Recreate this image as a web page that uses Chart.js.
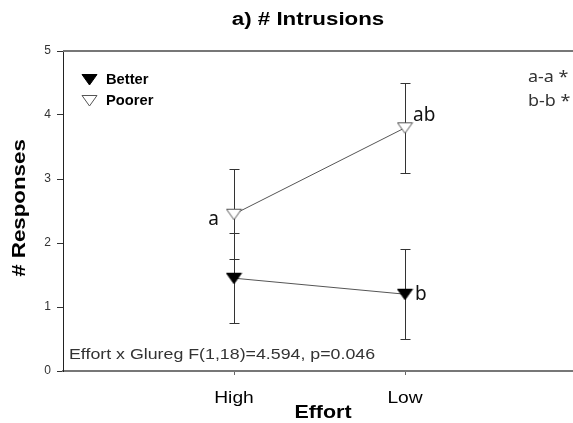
<!DOCTYPE html>
<html>
<head>
<meta charset="utf-8">
<script src="https://cdn.jsdelivr.net/npm/chart.js@4/dist/chart.umd.min.js"></script>
<style>
  html, body { margin: 0; padding: 0; background: #fff; overflow: hidden; }
  #wrap { position: relative; width: 573px; height: 423px; overflow: hidden; }
</style>
</head>
<body>
<div id="wrap"><canvas id="chart" width="576" height="423"></canvas></div>
<script>
// Effort level on the x axis
const categories = ['High', 'Low'];
// Mean number of intrusions and error-bar half widths per group
const betterMeans = [1.45, 1.2];
const betterErr = [0.7, 0.7];
const poorerMeans = [2.45, 3.8];
const poorerErr = [0.7, 0.7];
// Value axis ticks
const yTicks = [0, 1, 2, 3, 4, 5];
// Significance letters placed beside the points
const poorerLetters = ['a', 'ab'];
const betterLetters = ['', 'b'];
const contrastNotes = ['a-a *', 'b-b *'];
const statNote = 'Effort x Glureg F(1,18)=4.594, p=0.046';

const SANS = '"Liberation Sans", Arial, sans-serif';

// Downward triangle markers
function triangleMarker(fill, stroke) {
  const c = document.createElement('canvas');
  c.width = 17; c.height = 13;
  const g = c.getContext('2d');
  g.beginPath();
  g.moveTo(1, 1.5);
  g.lineTo(16, 1.5);
  g.lineTo(8.5, 12);
  g.closePath();
  g.fillStyle = fill;
  g.fill();
  g.lineWidth = 1;
  g.strokeStyle = stroke;
  g.stroke();
  return c;
}
const betterMarker = triangleMarker('#000', '#000');
const poorerMarker = triangleMarker('#fff', '#555');

const toPoints = (vals) => vals.map((v, i) => ({ x: i + 1, y: v }));

// Text drawn with a horizontal stretch (wide lettering)
function wideText(ctx, text, x, y, font, stretch, align, angle) {
  ctx.save();
  ctx.translate(x, y);
  if (angle) ctx.rotate(angle);
  ctx.scale(stretch, 1);
  ctx.font = font;
  ctx.textAlign = align || 'left';
  ctx.textBaseline = 'middle';
  ctx.fillText(text, 0, 0);
  ctx.restore();
}

const errorBars = {
  id: 'errorBars',
  beforeDatasetsDraw(chart) {
    const { ctx, scales: { x, y } } = chart;
    const groups = [[betterMeans, betterErr], [poorerMeans, poorerErr]];
    ctx.save();
    ctx.strokeStyle = '#333';
    ctx.lineWidth = 1;
    groups.forEach(([m, e]) => {
      m.forEach((v, i) => {
        const px = Math.round(x.getPixelForValue(i + 1)) + 0.5;
        const top = Math.round(y.getPixelForValue(v + e[i])) + 0.5;
        const bot = Math.round(y.getPixelForValue(v - e[i])) + 0.5;
        ctx.beginPath();
        ctx.moveTo(px, top); ctx.lineTo(px, bot);
        ctx.moveTo(px - 5, top); ctx.lineTo(px + 5, top);
        ctx.moveTo(px - 5, bot); ctx.lineTo(px + 5, bot);
        ctx.stroke();
      });
    });
    ctx.restore();
  }
};

const decorations = {
  id: 'decorations',
  afterDraw(chart) {
    const { ctx, chartArea: a, scales: { x, y } } = chart;
    ctx.save();
    // top frame line
    ctx.strokeStyle = '#777';
    ctx.lineWidth = 2;
    ctx.beginPath();
    ctx.moveTo(a.left, a.top);
    ctx.lineTo(a.right, a.top);
    ctx.stroke();

    ctx.fillStyle = '#000';
    // title
    wideText(ctx, 'a) # Intrusions', 308, 20, 'bold 18px ' + SANS, 1.24, 'center');
    // axis titles
    wideText(ctx, 'Effort', 323, 413, 'bold 18px ' + SANS, 1.19, 'center');
    wideText(ctx, '# Responses', 20, 208, 'bold 18px ' + SANS, 1.24, 'center', -Math.PI / 2);

    // category labels
    categories.forEach((c, i) => {
      wideText(ctx, c, x.getPixelForValue(i + 1), 399, '16px ' + SANS, 1.2, 'center');
    });

    // legend
    ctx.drawImage(betterMarker, 81, 73);
    wideText(ctx, 'Better', 106, 80, 'bold 14px ' + SANS, 1.05, 'left');
    ctx.drawImage(poorerMarker, 81, 94);
    wideText(ctx, 'Poorer', 106, 101, 'bold 14px ' + SANS, 1.05, 'left');

    // significance letters
    ctx.fillStyle = '#111';
    const letterFont = '19px "Noto Sans", sans-serif';
    poorerLetters.forEach((t, i) => {
      if (!t) return;
      const px = x.getPixelForValue(i + 1);
      const py = y.getPixelForValue(poorerMeans[i]);
      if (i === 0) wideText(ctx, t, px - 15, py + 5, letterFont, 1, 'right');
      else wideText(ctx, t, px + 8, py - 12, letterFont, 1, 'left');
    });
    betterLetters.forEach((t, i) => {
      if (!t) return;
      const px = x.getPixelForValue(i + 1);
      const py = y.getPixelForValue(betterMeans[i]);
      wideText(ctx, t, px + 10, py, letterFont, 1, 'left');
    });

    // contrast notes
    ctx.fillStyle = '#333';
    contrastNotes.forEach((t, i) => wideText(ctx, t, 528, 77 + i * 24, '16px "Noto Sans", sans-serif', 1.12, 'left'));

    // statistics note
    wideText(ctx, statNote, a.left + 6, 355, '14px ' + SANS, 1.27, 'left');
    ctx.restore();
  }
};

new Chart(document.getElementById('chart'), {
  type: 'line',
  data: {
    datasets: [
      {
        label: 'Better',
        data: toPoints(betterMeans),
        borderColor: '#555',
        borderWidth: 1,
        pointStyle: betterMarker,
        pointRadius: 8,
        pointHoverRadius: 8
      },
      {
        label: 'Poorer',
        data: toPoints(poorerMeans),
        borderColor: '#555',
        borderWidth: 1,
        pointStyle: poorerMarker,
        pointRadius: 8,
        pointHoverRadius: 8
      }
    ]
  },
  options: {
    responsive: false,
    animation: false,
    events: [],
    layout: { autoPadding: false, padding: { top: 51, right: 0, left: 0, bottom: 0 } },
    plugins: {
      legend: { display: false },
      title: { display: false },
      tooltip: { enabled: false }
    },
    scales: {
      x: {
        type: 'linear',
        min: 0,
        max: categories.length + 1,
        afterBuildTicks: (s) => { s.ticks = categories.map((c, i) => ({ value: i + 1 })); },
        afterFit: (s) => { s.height = 52; s.paddingLeft = 0; s.paddingRight = 0; },
        ticks: {
          autoSkip: false,
          maxRotation: 0,
          padding: 4,
          color: 'rgba(0,0,0,0)',
          font: { family: SANS, size: 15 },
          callback: (v) => categories[v - 1] || ''
        },
        grid: { drawOnChartArea: false, drawTicks: true, tickLength: 4, color: '#666' },
        border: { color: '#777', width: 2 }
      },
      y: {
        min: 0,
        max: 5,
        afterBuildTicks: (s) => { s.ticks = yTicks.map(v => ({ value: v })); },
        afterFit: (s) => { s.width = 63; },
        ticks: {
          padding: 6,
          color: '#333',
          font: { family: SANS, size: 12 }
        },
        grid: { drawOnChartArea: false, drawTicks: true, tickLength: 6, color: '#333' },
        border: { color: '#222', width: 1 }
      }
    }
  },
  plugins: [errorBars, decorations]
});
</script>
</body>
</html>
